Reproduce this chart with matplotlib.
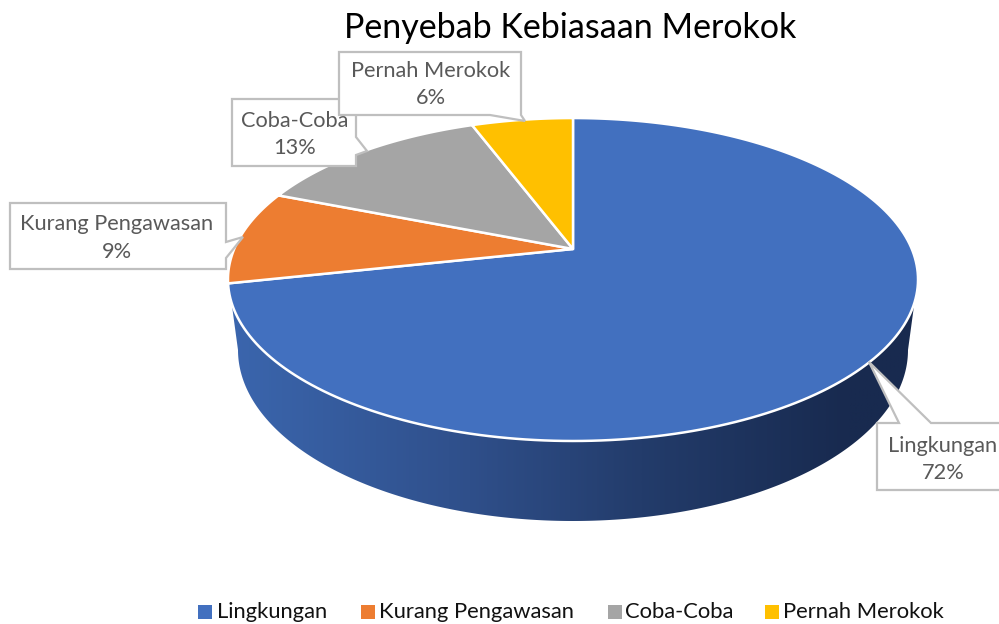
import matplotlib

matplotlib.use("Agg")
import matplotlib.pyplot as plt
import numpy as np
from matplotlib.colors import LinearSegmentedColormap
from matplotlib.patches import Polygon, Rectangle

categories = ["Lingkungan", "Kurang Pengawasan", "Coba-Coba", "Pernah Merokok"]
values = [71.6, 9.4, 13.3, 5.7]
colors = ["#4270bf", "#ed7d31", "#a5a5a5", "#ffc000"]
title = "Penyebab Kebiasaan Merokok"

plt.rcParams["font.family"] = ["Lato", "DejaVu Sans"]

CX, CY = 573.0, 249.0
RX, RY, K = 338.8, 155.7, 0.189


def rim(theta):
    # circle seen in perspective, theta clockwise from the top
    den = 1 + K * np.cos(theta)
    return CX + RX * np.sin(theta) / den, CY - RY * np.cos(theta) / den


def wedge_xy(a0, a1):
    t = np.linspace(a0, a1, 200)
    x, y = rim(t)
    return np.column_stack([np.r_[CX, x], np.r_[CY, y]])


fig = plt.figure(figsize=(9.99, 6.24), dpi=100)
ax = fig.add_axes([0, 0, 1, 1])
ax.set_xlim(0, 999)
ax.set_ylim(624, 0)
ax.axis("off")

# side wall, gradient clipped to the band between top rim and lower rim
t = np.linspace(np.pi * 0.5 + 0.33, np.pi * 1.5 - 0.33, 300)
top_x, top_y = rim(t)
low_t = np.linspace(np.pi, 0, 300)
low_x = 573 + 335 * np.cos(low_t)
low_y = 350 + 171 * np.sin(low_t)
side = np.column_stack([np.r_[top_x, low_x], np.r_[top_y, low_y]])
wall = Polygon(side, closed=True, fc="none", ec="none")
ax.add_patch(wall)
cmap = LinearSegmentedColormap.from_list(
    "wall",
    [(0.0, "#3b66ae"), (0.35, "#2f4f8a"), (0.6, "#233c6b"), (0.9, "#182a4f"), (1.0, "#182a4f")],
)
grad = np.linspace(0, 1, 512).reshape(1, -1)
im = ax.imshow(grad, cmap=cmap, extent=[228, 918, 530, 280], aspect="auto", zorder=1)
im.set_clip_path(wall)
ax.set_xlim(0, 999)
ax.set_ylim(624, 0)

# pie top
fracs = np.cumsum([0] + values) / sum(values) * 2 * np.pi
for i, color in enumerate(colors):
    ax.add_patch(
        Polygon(wedge_xy(fracs[i], fracs[i + 1]), closed=True, fc=color, ec="white", lw=1.8, zorder=2)
    )

ax.text(570, 28, title, ha="center", va="center", fontsize=24.5, color="black")

# callouts: box outline with the leader running to the slice
callouts = [
    ([(877, 423), (899, 423), (869, 362), (931, 423), (1005, 423), (1005, 490), (877, 490)], (943, 446), (943, 473)),
    ([(10, 203), (226, 203), (226, 242), (243, 237), (226, 258), (226, 269), (10, 269)], (117, 224), (117, 252)),
    ([(232, 99), (356, 99), (356, 137), (367, 151), (356, 155), (356, 166), (232, 166)], (295, 121), (295, 148)),
    ([(339, 52), (521, 52), (521, 115), (525, 121), (490, 115), (446, 115), (339, 115)], (431, 71), (431, 98)),
]
for i, (outline, pos_a, pos_b) in enumerate(callouts):
    z = 3 + i
    ax.add_patch(Polygon(outline, closed=True, fc="white", ec="#bfbfbf", lw=1.6, zorder=z))
    ax.text(*pos_a, categories[i], ha="center", va="center", fontsize=15.7, color="#595959", zorder=z)
    ax.text(*pos_b, f"{values[i]:.0f}%", ha="center", va="center", fontsize=15.7, color="#595959", zorder=z)

# legend
legend_x = [198, 361, 608, 765]
text_x = [217, 379, 625, 783]
for i, name in enumerate(categories):
    ax.add_patch(Rectangle((legend_x[i], 605), 14, 14, fc=colors[i], ec="none"))
    ax.text(text_x[i], 612, name, ha="left", va="center", fontsize=15.8, color="#111111")

fig.savefig("out.png", dpi=100)
